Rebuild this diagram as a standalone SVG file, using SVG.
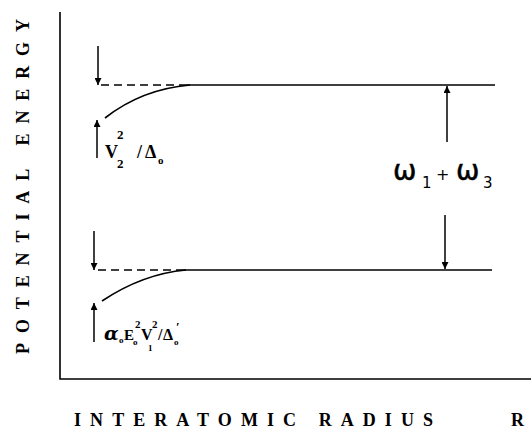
<svg xmlns="http://www.w3.org/2000/svg" width="532" height="436" viewBox="0 0 532 436">
<defs>
<marker id="ah" viewBox="0 0 10 10" refX="10" refY="5" markerWidth="7" markerHeight="7" markerUnits="userSpaceOnUse" orient="auto">
<path d="M0,0 L10,5 L0,10 z" fill="#000"/>
</marker>
<style>
.ax{stroke:#000;stroke-width:1.6;fill:none}
.ln{stroke:#000;stroke-width:1.6;fill:none}
.dash{stroke:#000;stroke-width:1.4;fill:none;stroke-dasharray:8 5}
.arr{stroke:#000;stroke-width:1.5;fill:none;marker-end:url(#ah)}
.lab{font-family:"Liberation Serif","Times New Roman",serif;font-weight:bold;font-size:18px;fill:#000}
.m{font-family:"Liberation Serif","DejaVu Serif",serif;font-weight:bold;fill:#000}
.g{font-family:"DejaVu Sans",sans-serif;fill:#000}
</style>
</defs>
<rect width="532" height="436" fill="#fff"/>
<g id="axes">
<path class="ax" d="M60,12 L60,379 L531,379"/>
<text class="lab" transform="rotate(-90)" x="-354" y="29" textLength="335" lengthAdjust="spacing">POTENTIAL ENERGY</text>
<text class="lab" x="74" y="426" textLength="359" lengthAdjust="spacing">INTERATOMIC RADIUS</text>
<text class="lab" x="511" y="426">R</text>
</g>
<g id="upper-level">
<path class="dash" d="M101,85 L183,85"/>
<path class="ln" d="M183,85 L495,85"/>
<path class="ln" d="M105,118 C128,100 155,88 190,85"/>
<text class="m" font-size="18" x="105" y="158">V</text>
<text class="m" font-size="13" x="117" y="139">2</text>
<text class="m" font-size="13" x="117" y="168">2</text>
<text class="m" font-size="18" x="137" y="158">/</text>
<text class="m" font-size="18" x="145" y="158">Δ</text>
<text class="m" font-size="11" x="158" y="164">o</text>
</g>
<g id="lower-level">
<path class="dash" d="M98,270 L180,270"/>
<path class="ln" d="M180,270 L492,270"/>
<path class="ln" d="M102,301 C126,285 152,273 186,270"/>
<text x="104" y="340" font-family="DejaVu Serif, serif" font-weight="bold" font-style="italic" font-size="19" fill="#000">α</text>
<text class="m" font-size="9" x="119" y="343">o</text>
<text class="m" font-size="15" x="124" y="340">E</text>
<text class="m" font-size="9" x="133" y="345">o</text>
<text class="m" font-size="11" x="135" y="328">2</text>
<text class="m" font-size="16" x="141" y="340">V</text>
<text class="m" font-size="11" x="152" y="328">2</text>
<text class="m" font-size="9" x="148" y="351">1</text>
<text class="m" font-size="16" x="158" y="340">/</text>
<text class="m" font-size="16" x="163" y="340">Δ</text>
<text class="m" font-size="9" x="174" y="345">o</text>
<text class="m" font-size="13" x="176" y="331">′</text>
</g>
<g id="energy-gap">
<text class="g" font-size="28" x="393" y="180" stroke="#000" stroke-width="0.5">ω</text>
<text class="g" font-size="15" x="422" y="188">1</text>
<text class="g" font-size="16" x="436" y="180">+</text>
<text class="g" font-size="28" x="456" y="180" stroke="#000" stroke-width="0.5">ω</text>
<text class="g" font-size="15" x="483" y="188">3</text>
</g>
<g id="connectors">
<path class="arr" d="M98,46 L98,85"/>
<path class="arr" d="M97,158 L97,120"/>
<path class="arr" d="M94,231 L94,270"/>
<path class="arr" d="M94,342 L94,303"/>
<path class="arr" d="M447,142 L447,86"/>
<path class="arr" d="M445,215 L445,269"/>
</g>
</svg>
